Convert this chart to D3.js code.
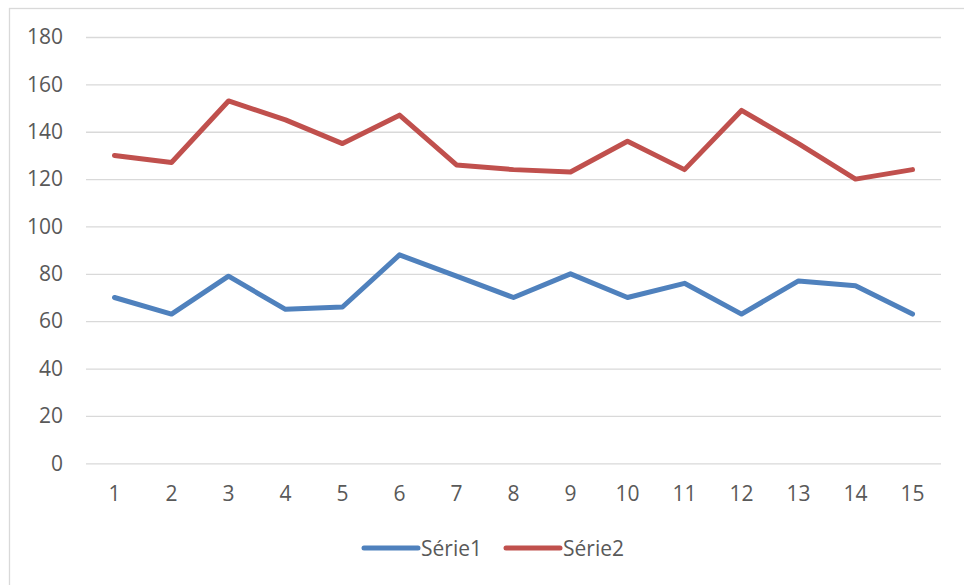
<!DOCTYPE html>
<html>
<head>
<meta charset="utf-8">
<script src="https://cdn.jsdelivr.net/npm/d3@7"></script>
<style>
  html, body { margin: 0; padding: 0; background: #fff; }
  svg { display: block; }
  .tick text { font-family: "Open Sans", sans-serif; font-size: 21px; fill: #595959; }
</style>
</head>
<body>
<svg id="chart" width="964" height="585"></svg>
<script>
// Categories and series values
const categories = [1, 2, 3, 4, 5, 6, 7, 8, 9, 10, 11, 12, 13, 14, 15];
const serie1 = [70, 63, 79, 65, 66, 88, 79, 70, 80, 70, 76, 63, 77, 75, 63];
const serie2 = [130, 127, 153, 145, 135, 147, 126, 124, 123, 136, 124, 149, 135, 120, 124];
const seriesNames = ["Série1", "Série2"];
const seriesColors = ["#4F81BD", "#C0504D"];
const yTicks = [0, 20, 40, 60, 80, 100, 120, 140, 160, 180];

const svg = d3.select("#chart");

// Plot area
const plot = { left: 86, right: 941, top: 37, bottom: 463.3 };

// Outer chart frame (only top/left edges fall inside the view)
svg.append("rect")
  .attr("x", 9.5).attr("y", 8.5)
  .attr("width", 1000).attr("height", 700)
  .attr("fill", "none")
  .attr("stroke", "#d9d9d9")
  .attr("stroke-width", 1.3);

const x = d3.scaleBand().domain(categories).range([plot.left, plot.right]).paddingInner(0).paddingOuter(0);
const y = d3.scaleLinear().domain([0, 180]).range([plot.bottom, plot.top]);

// Y axis with horizontal gridlines
const yAxis = svg.append("g")
  .attr("transform", `translate(${plot.left},0)`)
  .call(d3.axisLeft(y).tickValues(yTicks).tickSize(-(plot.right - plot.left)).tickPadding(23));
yAxis.select(".domain").remove();
yAxis.selectAll(".tick line").attr("stroke", "#d9d9d9").attr("stroke-width", 1.3);

// X axis labels
const xAxis = svg.append("g")
  .attr("transform", `translate(0,${plot.bottom})`)
  .call(d3.axisBottom(x).tickSize(0).tickPadding(23));
xAxis.select(".domain").remove();

// Lines
const line = d3.line()
  .x((d, i) => x(categories[i]) + x.bandwidth() / 2)
  .y(d => y(d));

[serie1, serie2].forEach((s, k) => {
  svg.append("path")
    .datum(s)
    .attr("fill", "none")
    .attr("stroke", seriesColors[k])
    .attr("stroke-width", 5)
    .attr("stroke-linejoin", "round")
    .attr("stroke-linecap", "round")
    .attr("d", line);
});

// Legend
const legendY = 548;
const legendX = [364, 506];
const legend = svg.append("g");
seriesNames.forEach((name, k) => {
  legend.append("line")
    .attr("x1", legendX[k]).attr("x2", legendX[k] + 54)
    .attr("y1", legendY).attr("y2", legendY)
    .attr("stroke", seriesColors[k])
    .attr("stroke-width", 5)
    .attr("stroke-linecap", "round");
  legend.append("text")
    .attr("x", legendX[k] + 57)
    .attr("y", legendY)
    .attr("dy", "0.36em")
    .attr("font-family", "'Open Sans', sans-serif")
    .attr("font-size", 21)
    .attr("fill", "#595959")
    .text(name);
});
</script>
</body>
</html>
